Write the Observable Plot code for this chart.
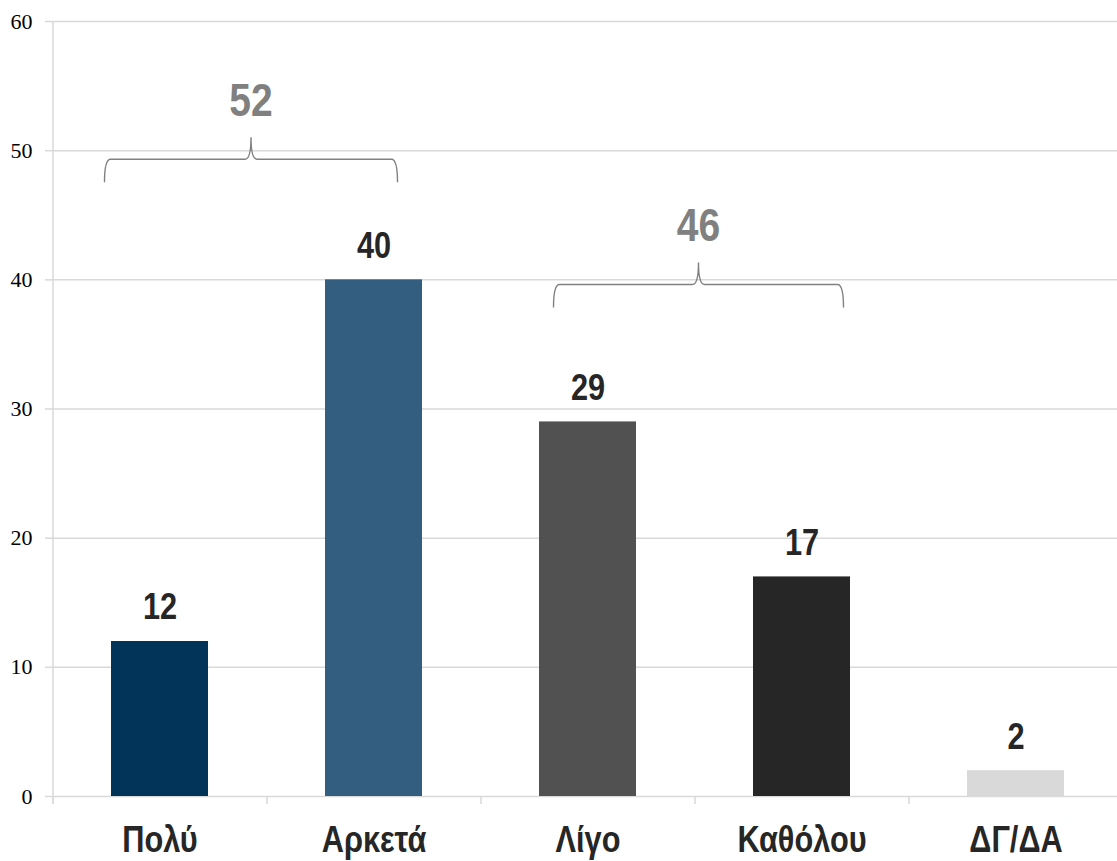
<!DOCTYPE html>
<html>
<head>
<meta charset="utf-8">
<script src="https://cdn.jsdelivr.net/npm/d3@7"></script>
<script src="https://cdn.jsdelivr.net/npm/@observablehq/plot@0.6"></script>
<style>
  html, body { margin: 0; padding: 0; background: #fff; overflow: hidden; }
  #chart { width: 1117px; height: 861px; }
</style>
</head>
<body>
<div id="chart"></div>
<script>
// ---- data ----
const categories = ["Πολύ", "Αρκετά", "Λίγο", "Καθόλου", "ΔΓ/ΔΑ"];
const values = [12, 40, 29, 17, 2];
const barColors = ["#023459", "#335e7f", "#515151", "#262626", "#d9d9d9"];
const yTicks = [0, 10, 20, 30, 40, 50, 60];
const groupFrom = ["Πολύ", "Λίγο"];
const groupTo = ["Αρκετά", "Καθόλου"];
const groupTotals = [52, 46];
const groupLevels = [49.3, 39.6];

const data = categories.map((c, i) => ({cat: c, value: values[i], color: barColors[i]}));
const braces = groupTotals.map((t, i) => ({from: groupFrom[i], to: groupTo[i], total: t, level: groupLevels[i]}));
// pixel offsets of the brace ends relative to bar centers
const braceOffsets = [[-55, 24], [-34, 42]];

const sans = '"Liberation Sans", Arial, sans-serif';
const squeeze = 0.83; // emulate a condensed (narrow) face

function braceMark(index, scales, values, dimensions, context) {
  const x = scales.x, y = scales.y;
  const bw = x.bandwidth();
  const g = d3.create("svg:g");
  braces.forEach((b, i) => {
    const xl = x(b.from) + bw / 2 + braceOffsets[i][0];
    const xr = x(b.to) + bw / 2 + braceOffsets[i][1];
    const xm = (xl + xr) / 2;
    const yb = y(b.level);
    const drop = 23, tip = 22, r = 6;
    const p = d3.path();
    p.moveTo(xl, yb + drop);
    p.quadraticCurveTo(xl, yb, xl + r, yb);
    p.lineTo(xm - r, yb);
    p.quadraticCurveTo(xm, yb, xm, yb - tip);
    p.quadraticCurveTo(xm, yb, xm + r, yb);
    p.lineTo(xr - r, yb);
    p.quadraticCurveTo(xr, yb, xr, yb + drop);
    g.append("path").attr("d", p.toString())
      .attr("fill", "none").attr("stroke", "#808080").attr("stroke-width", 1.4);
    g.append("text").attr("x", xm).attr("y", yb - 60)
      .attr("text-anchor", "middle").attr("dy", "0.36em")
      .attr("font-family", sans).attr("font-weight", "bold")
      .attr("font-size", 47).attr("fill", "#808080")
      .text(b.total);
  });
  return g.node();
}

const step = 214;
const plot = Plot.plot({
  width: 1117,
  height: 861,
  marginTop: 21,
  marginBottom: 65,
  marginLeft: 52,
  marginRight: 0,
  style: {background: "#fff", overflow: "visible"},
  x: {domain: categories, range: [52, 1122], paddingInner: 0.547, paddingOuter: 0.2735, label: null},
  y: {domain: [0, 60], label: null},
  marks: [
    Plot.ruleY(yTicks, {stroke: "#d9d9d9", strokeWidth: 1.5}),
    Plot.axisY({ticks: yTicks, tickSize: 7, tickPadding: 13, stroke: "#d9d9d9", strokeWidth: 1.5, fill: "#000", fontSize: 22, fontFamily: '"Liberation Serif", "DejaVu Serif", serif', label: null}),
    Plot.ruleX([0], {x: () => categories[0], dx: -step / 2, y1: 60, y2: 0, insetBottom: -7, stroke: "#d9d9d9", strokeWidth: 1.5}),
    Plot.axisX({tickSize: 8, dx: -step / 2, stroke: "#d9d9d9", strokeWidth: 1.5, fill: "none", label: null}),
    Plot.barY(data, {x: "cat", y: "value", fill: "color"}),
    Plot.axisX({tickSize: 0, tickPadding: 44, fontSize: 37, fontFamily: sans, fontWeight: "bold", fill: "#262626", stroke: "none", lineAnchor: "middle", label: null}),
    Plot.text(data, {x: "cat", y: "value", text: d => String(d.value), dy: -34, fontSize: 37, fontFamily: sans, fontWeight: "bold", fill: "#262626", lineAnchor: "middle"}),
    braceMark
  ]
});
document.getElementById("chart").appendChild(plot);

// narrow the bold labels horizontally
plot.querySelectorAll("text").forEach(t => {
  const fw = getComputedStyle(t).fontWeight;
  if (fw === "bold" || +fw >= 700) {
    const len = t.getComputedTextLength();
    if (len > 0) {
      t.setAttribute("textLength", (len * squeeze).toFixed(2));
      t.setAttribute("lengthAdjust", "spacingAndGlyphs");
    }
  }
});
</script>
</body>
</html>
